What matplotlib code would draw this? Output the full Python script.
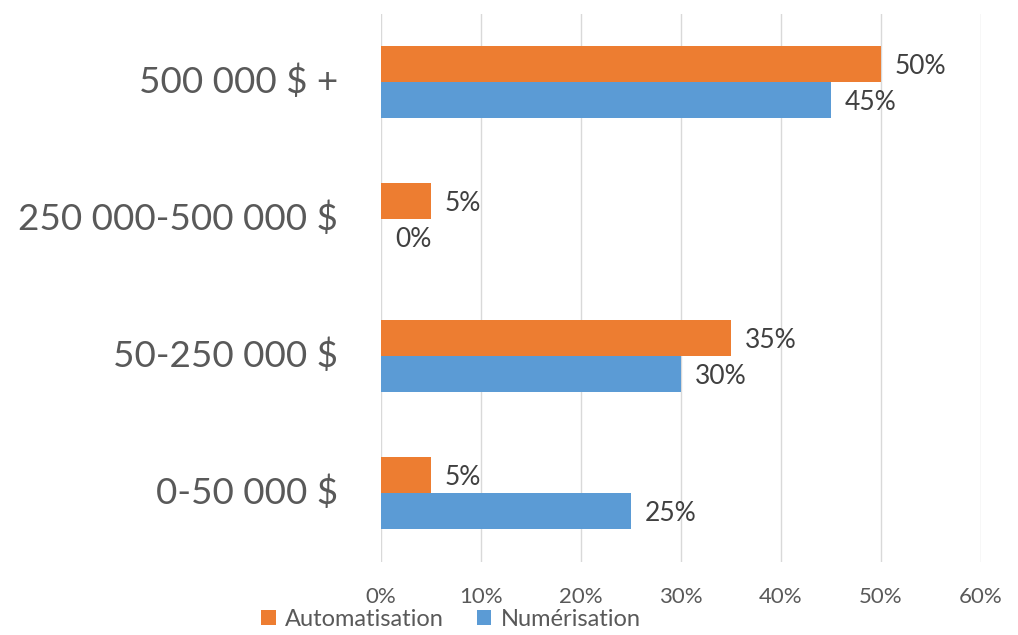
import matplotlib
matplotlib.use("Agg")
import matplotlib.pyplot as plt
import numpy as np

plt.rcParams["font.family"] = ["Lato", "DejaVu Sans"]

categories = ["0-50 000 $", "50-250 000 $", "250 000-500 000 $", "500 000 $ +"]
automatisation = [5, 35, 5, 50]
numerisation = [25, 30, 0, 45]
xticks = [0, 10, 20, 30, 40, 50, 60]

ORANGE = "#ED7D31"
BLUE = "#5B9BD5"
TEXT = "#595959"
LABEL = "#404040"

fig = plt.figure(figsize=(10.18, 6.35), dpi=100)
ax = fig.add_axes([0.3743, 0.1157, 0.5894, 0.863])

y = np.arange(len(categories))
h = 0.26
bars_a = ax.barh(y + h / 2, automatisation, height=h, color=ORANGE,
                 label="Automatisation", zorder=3)
bars_n = ax.barh(y - h / 2, numerisation, height=h, color=BLUE,
                 label="Numérisation", zorder=3)

# value labels just right of each bar end
for bars, vals in ((bars_a, automatisation), (bars_n, numerisation)):
    for bar, v in zip(bars, vals):
        ax.annotate(f"{v}%", (v, bar.get_y() + bar.get_height() / 2),
                    xytext=(10, -2), textcoords="offset points",
                    va="center", ha="left", fontsize=19, color=LABEL)

ax.set_xlim(0, 60)
ax.set_ylim(-0.5, len(categories) - 0.5)
ax.set_xticks(xticks)
ax.set_xticklabels([f"{t}%" for t in xticks], fontsize=16, color=TEXT)
ax.set_yticks(y)
ax.set_yticklabels(categories, fontsize=26.5, color=TEXT, va="center")
ax.tick_params(axis="both", length=0)
ax.tick_params(axis="y", pad=31)
ax.tick_params(axis="x", pad=18)
ax.grid(axis="x", color="#D9D9D9", linewidth=1, zorder=0)
for s in ax.spines.values():
    s.set_visible(False)

fig.legend(handles=[bars_a, bars_n], loc="lower center", ncol=2,
           bbox_to_anchor=(0.443, -0.026), frameon=False, fontsize=17,
           handlelength=0.6, handleheight=0.6, handletextpad=0.4,
           columnspacing=1.4, labelcolor=TEXT)

fig.savefig("out.png", dpi=100)
